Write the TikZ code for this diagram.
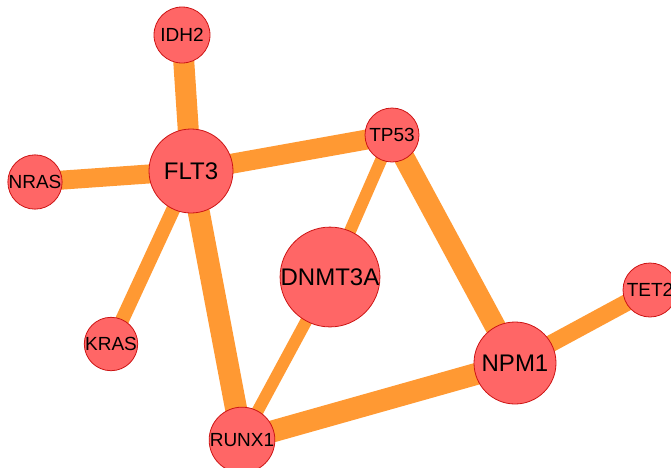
\documentclass[tikz,border=0pt]{standalone}
\usepackage{fontspec}
\setmainfont{Liberation Sans}
\usetikzlibrary{backgrounds}
\definecolor{nodefill}{RGB}{255,102,102}
\definecolor{nodeline}{RGB}{204,20,20}
\definecolor{edgecol}{RGB}{255,153,51}
\tikzset{
  gene/.style={circle, fill=nodefill, draw=nodeline, line width=0.8pt, inner sep=0pt, text=black},
  small/.style={gene, font=\fontsize{19}{19}\selectfont},
  big/.style={gene, font=\fontsize{24}{24}\selectfont},
  link/.style={draw=edgecol, line cap=butt}
}
\begin{document}
\begin{tikzpicture}[x=1pt,y=-1pt]
\useasboundingbox (0,0) rectangle (671,467);
\node[small, minimum size=56pt] (IDH2) at (182,35) {IDH2};
\node[big, minimum size=84pt] (FLT3) at (191,171) {FLT3};
\node[small, minimum size=52pt] (NRAS) at (35,182) {NRAS};
\node[small, minimum size=54pt] (TP53) at (392,135) {TP53};
\node[big, minimum size=74pt] (DNMT3A) at (330,277) {DNMT3A};
\node[small, minimum size=46pt] (KRAS) at (111,344) {KRAS};
\node[small, minimum size=54pt] (RUNX1) at (242,440) {RUNX1};
\node[big, minimum size=82pt] (NPM1) at (515,363) {NPM1};
\node[small, minimum size=54pt] (TET2) at (650,290) {TET2};
\begin{pgfonlayer}{background}
\draw[link, line width=21pt] (IDH2.center) -- (FLT3.center);
\draw[link, line width=19pt] (FLT3.center) -- (NRAS.center);
\draw[link, line width=20pt] (FLT3.center) -- (TP53.center);
\draw[link, line width=14pt] (FLT3.center) -- (KRAS.center);
\draw[link, line width=22pt] (FLT3.center) -- (RUNX1.center);
\draw[link, line width=12pt] (TP53.center) -- (DNMT3A.center);
\draw[link, line width=21pt] (TP53.center) -- (NPM1.center);
\draw[link, line width=12pt] (DNMT3A.center) -- (RUNX1.center);
\draw[link, line width=22pt] (RUNX1.center) -- (NPM1.center);
\draw[link, line width=17pt] (NPM1.center) -- (TET2.center);
\end{pgfonlayer}
\end{tikzpicture}
\end{document}
